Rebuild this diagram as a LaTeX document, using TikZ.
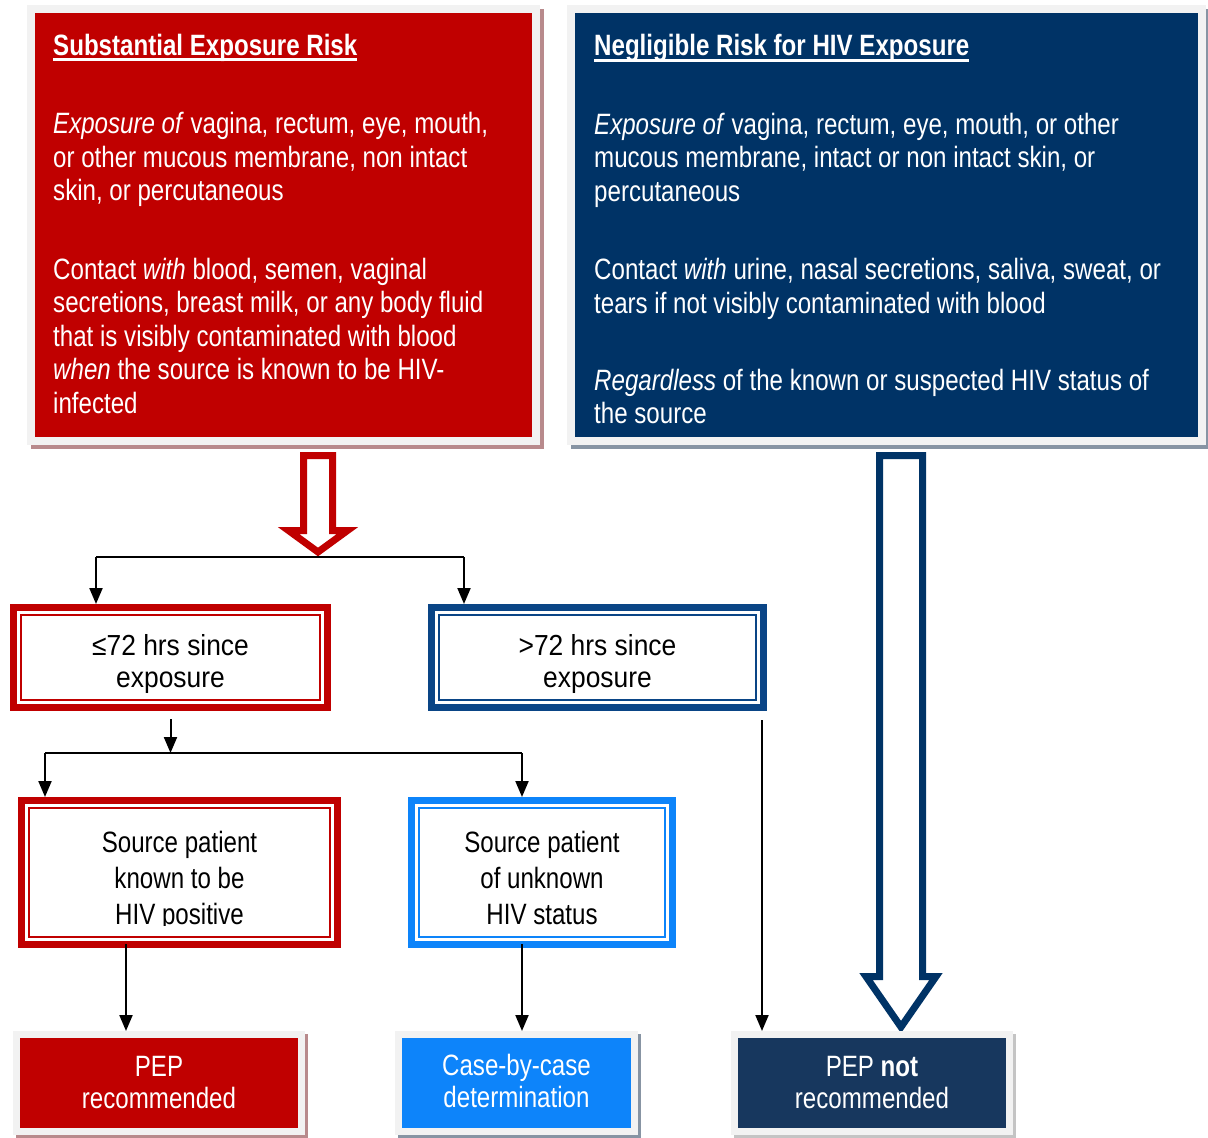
\documentclass[tikz,border=0pt]{standalone}
\usepackage{fontspec}
\setmainfont{Liberation Sans}
\newfontfamily\narrowfont[FakeStretch=0.82]{Liberation Sans}
\newfontfamily\midfont[FakeStretch=0.91]{Liberation Sans}
\usetikzlibrary{arrows.meta}

\definecolor{riskred}{HTML}{C00000}
\definecolor{risknavy}{HTML}{003366}
\definecolor{framegray}{HTML}{F2F2F2}
\definecolor{redshadow}{HTML}{B88A8C}
\definecolor{blueshadow}{HTML}{8794A3}
\definecolor{greyshadow}{HTML}{C4C4C4}
\definecolor{midblue}{HTML}{0A4586}
\definecolor{skyblue}{HTML}{0D84FA}
\definecolor{deepnavy}{HTML}{17375E}

% heading with a thick underline
\newcommand\ultitle[1]{\leavevmode\setbox0=\hbox{#1}\rlap{\rule[-6pt]{\wd0}{2.7pt}}\box0}

\begin{document}
\begin{tikzpicture}[x=1pt,y=1pt,
  panel/.style 2 args={fill=#1, inner sep=0pt, outer sep=0pt,
    preaction={fill=none, draw=#2, line width=16pt, transform canvas={shift={(4pt,-4pt)}}},
    preaction={fill=none, draw=framegray, line width=16pt}},
  % multi-line text blocks are placed by the baseline of their last line
  panetext/.style={text=white, anchor=base west, align=left, inner sep=0pt,
    font=\narrowfont\fontsize{29.4}{33.5}\selectfont},
  dbox/.style={draw=#1, line width=7pt, fill=white, inner sep=0pt, outer sep=3.5pt},
  innerrule/.style={draw=#1, line width=2pt},
  midtext/.style={align=center, font=\midfont\fontsize{29}{32}\selectfont},
  srctext/.style={align=center, inner sep=0pt, font=\narrowfont\fontsize{29.4}{36}\selectfont},
  endbox/.style 2 args={fill=#1, text=white, inner sep=0pt, outer sep=7pt,
    preaction={fill=none, draw=#2, line width=14pt, transform canvas={shift={(3pt,-3pt)}}},
    preaction={fill=none, draw=framegray, line width=14pt},
    align=center, font=\narrowfont\fontsize{29.4}{32}\selectfont},
  hollow/.style={draw=#1, line width=7pt, fill=white, line join=miter},
  link/.style={draw=black, line width=2pt},
  arr/.style={link, -{Triangle[width=13pt,length=16pt]}}
]
\useasboundingbox (0,0) rectangle (1208,-1138);

% ---- top panels
\node[panel={riskred}{redshadow}, minimum width=497pt, minimum height=424pt] (sub) at (283.5,-225) {};
\node[panel={risknavy}{blueshadow}, minimum width=623pt, minimum height=424pt] (neg) at (886.5,-225) {};

\node[panetext] (subtext) at (53,-413) {%
  \textbf{\ultitle{Substantial Exposure Risk}}\\[45pt]
  \textit{Exposure of} vagina, rectum, eye, mouth,\\
  or other mucous membrane, non intact\\
  skin, or percutaneous\\[45pt]
  Contact \textit{with} blood, semen, vaginal\\
  secretions, breast milk, or any body fluid\\
  that is visibly contaminated with blood\\
  \textit{when} the source is known to be HIV-\\
  infected};

\node[panetext] (negtext) at (594,-423) {%
  \textbf{\ultitle{Negligible Risk for HIV Exposure}}\\[45pt]
  \textit{Exposure of} vagina, rectum, eye, mouth, or other\\
  mucous membrane, intact or non intact skin, or\\
  percutaneous\\[45pt]
  Contact \textit{with} urine, nasal secretions, saliva, sweat, or\\
  tears if not visibly contaminated with blood\\[44pt]
  \textit{Regardless} of the known or suspected HIV status of\\[-1pt]
  the source};

% ---- hollow block arrows
\draw[hollow=riskred] (303.5,-455.5) -- (332.5,-455.5) -- (332.5,-530.5) -- (347.5,-530.5)
  -- (318,-552) -- (288.5,-530.5) -- (303.5,-530.5) -- cycle;
\draw[hollow=risknavy] (879.5,-455.5) -- (922.5,-455.5) -- (922.5,-976.5) -- (936,-976.5)
  -- (901,-1027) -- (866,-976.5) -- (879.5,-976.5) -- cycle;

% ---- time since exposure
\node[dbox=riskred, minimum width=314pt, minimum height=100pt] (le72) at (170.5,-657.5) {};
\node[dbox=midblue, minimum width=332pt, minimum height=100pt] (gt72) at (597.5,-657.5) {};
\node[midtext] (le72text) at ([yshift=-6pt]le72.center) {≤72 hrs since\\exposure};
\node[midtext] (gt72text) at ([yshift=-6pt]gt72.center) {>72 hrs since\\exposure};

% ---- source status
\node[dbox=riskred, minimum width=316pt, minimum height=144pt] (srcpos) at (179.5,-872.5) {};
\node[dbox=skyblue, minimum width=261pt, minimum height=144pt] (srcunk) at (542,-872.5) {};
\begin{scope}
  \clip (srcpos.north west) rectangle ([yshift=23pt]srcpos.south east);
  \node[srctext] (srcpostext) at ([yshift=-8pt]srcpos.center) {Source patient\\known to be\\HIV positive};
\end{scope}
\node[srctext] (srcunktext) at ([yshift=-5pt]srcunk.center) {Source patient\\of unknown\\HIV status};

\foreach \b/\c in {le72/riskred, gt72/midblue, srcpos/riskred, srcunk/skyblue}
  \draw[innerrule=\c] ([shift={(11pt,11pt)}]\b.south west) rectangle ([shift={(-11pt,-11pt)}]\b.north east);

% ---- outcomes
\node[endbox={riskred}{redshadow}, minimum width=278pt, minimum height=90pt] (pepyes) at (159,-1083) {};
\node[endbox={skyblue}{blueshadow}, minimum width=229pt, minimum height=90pt] (casebc) at (516.5,-1083) {};
\node[endbox={deepnavy}{greyshadow}, minimum width=268pt, minimum height=90pt] (pepno) at (872,-1083) {};
\node[align=center, text=white, font=\narrowfont\fontsize{29.4}{32}\selectfont] (pepyestext) at (pepyes.center) {PEP\\recommended};
\node[align=center, text=white, font=\narrowfont\fontsize{29.4}{32}\selectfont] (casebctext) at ([yshift=2pt]casebc.center) {Case-by-case\\determination};
\node[align=center, text=white, font=\narrowfont\fontsize{29.4}{32}\selectfont] (pepnotext) at (pepno.center) {PEP \textbf{not}\\recommended};

% ---- connectors
\coordinate (j1) at (318,-557);
\coordinate (j1l) at (96,-557);
\coordinate (j1r) at (464,-557);
\draw[link] (j1l) -- (j1) -- (j1r);
\draw[arr] (j1l) -- (j1l |- le72.north);
\draw[arr] (j1r) -- (j1r |- gt72.north);

\coordinate (j2) at (le72.south |- 0,-753);
\coordinate (j2l) at (45,-753);
\coordinate (j2r) at (522,-753);
\draw[arr] ([yshift=-8pt]le72.south) -- (j2);
\draw[link] (j2l) -- (j2r);
\draw[arr] (j2l) -- (j2l |- srcpos.north);
\draw[arr] (j2r) -- (j2r |- srcunk.north);

\coordinate (s1) at (126,-944);
\coordinate (s2) at (522,-944);
\coordinate (s3) at (762,-720);
\draw[arr] (s1) -- (s1 |- pepyes.north);
\draw[arr] (s2) -- (s2 |- casebc.north);
\draw[arr] (s3) -- (s3 |- pepno.north);
\end{tikzpicture}
\end{document}
